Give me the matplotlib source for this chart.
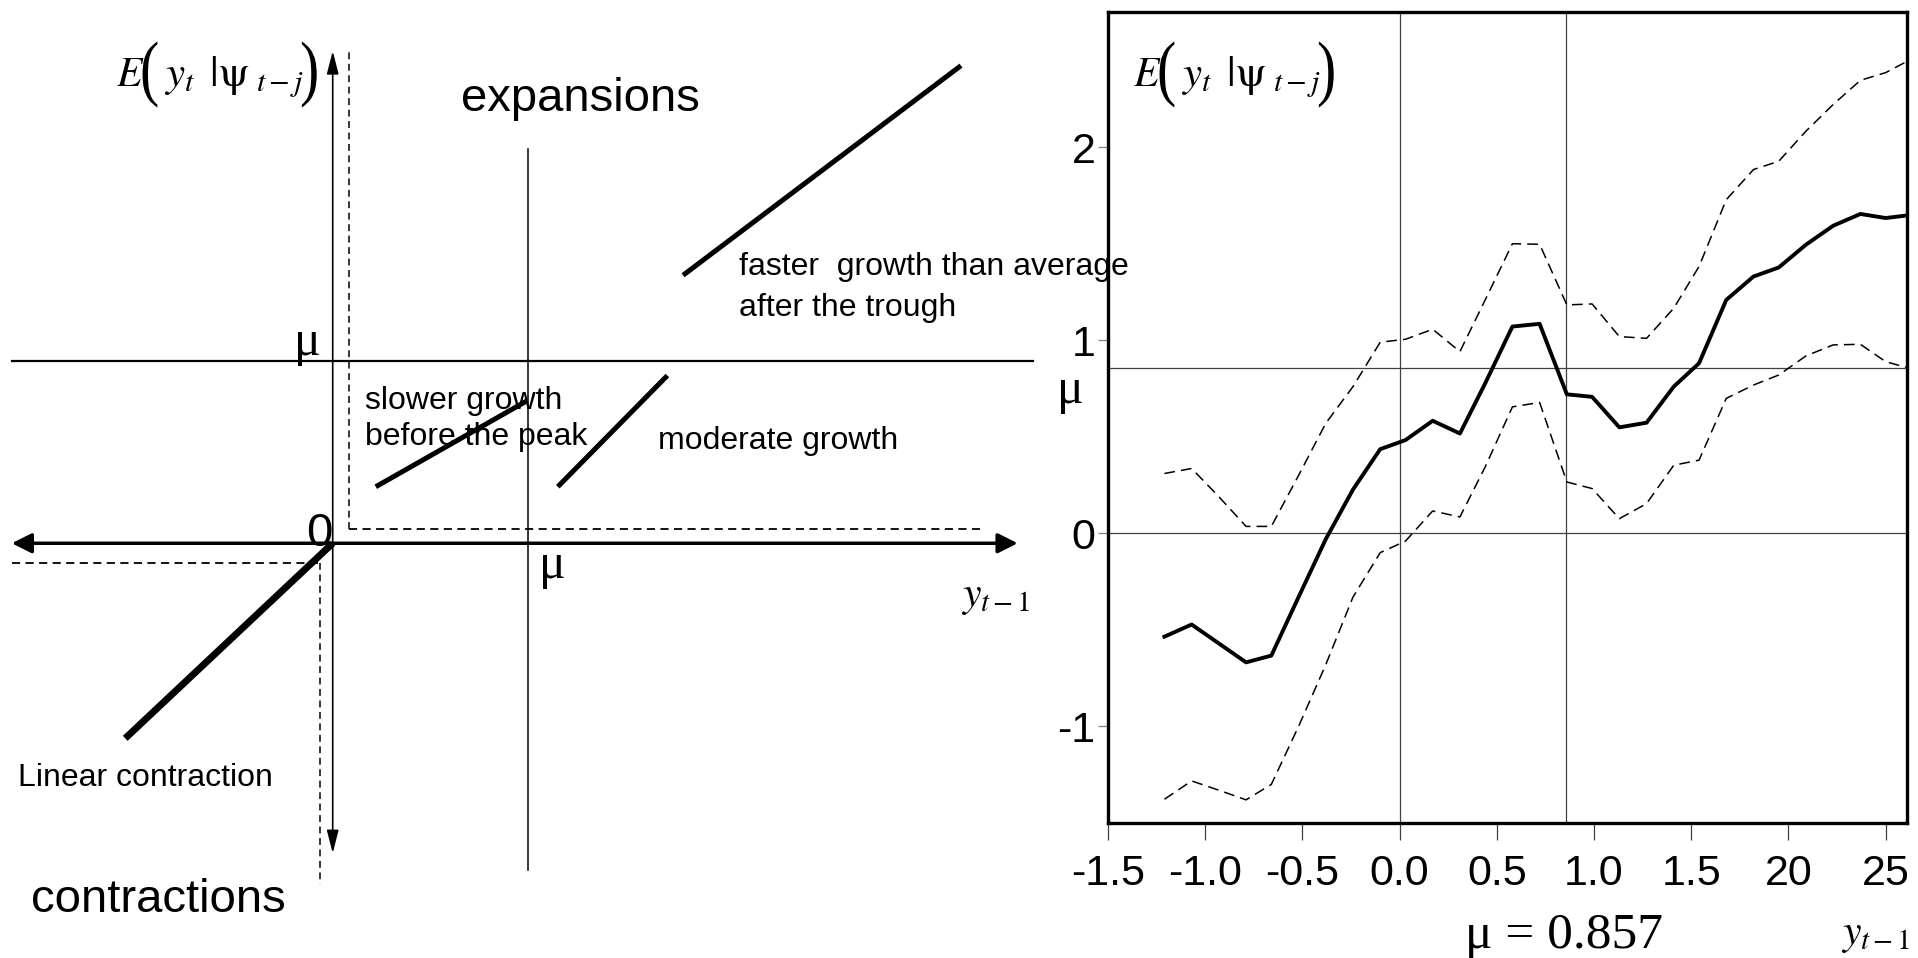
import matplotlib
matplotlib.use("Agg")
import matplotlib.pyplot as plt
from matplotlib import font_manager
from matplotlib.font_manager import FontProperties
from matplotlib.textpath import TextPath
from matplotlib.patches import PathPatch
from matplotlib.transforms import Affine2D

# right panel: estimated conditional mean with bands
y_lag = [-1.21, -1.07, -0.93, -0.79, -0.66, -0.52, -0.38, -0.24, -0.10, 0.03,
         0.17, 0.31, 0.44, 0.58, 0.72, 0.86, 0.99, 1.13, 1.27, 1.41,
         1.54, 1.68, 1.82, 1.95, 2.09, 2.23, 2.37, 2.50, 2.64]
cond_mean = [-0.535, -0.472, -0.57, -0.668, -0.633, -0.33, -0.03, 0.227, 0.436, 0.483,
             0.583, 0.517, 0.777, 1.071, 1.085, 0.72, 0.707, 0.549, 0.573, 0.76,
             0.881, 1.209, 1.33, 1.377, 1.495, 1.593, 1.654, 1.633, 1.65]
upper_band = [0.31, 0.336, 0.19, 0.036, 0.036, 0.30, 0.57, 0.76, 0.99, 1.005,
              1.057, 0.941, 1.209, 1.50, 1.497, 1.183, 1.188, 1.019, 1.01, 1.166,
              1.382, 1.728, 1.884, 1.927, 2.083, 2.221, 2.346, 2.386, 2.46]
lower_band = [-1.377, -1.282, -1.33, -1.38, -1.30, -1.00, -0.68, -0.33, -0.10, -0.04,
              0.116, 0.085, 0.344, 0.655, 0.678, 0.266, 0.232, 0.076, 0.154, 0.353,
              0.379, 0.699, 0.768, 0.82, 0.919, 0.976, 0.979, 0.889, 0.85]
mu = 0.857

xtick_vals = [-1.5, -1.0, -0.5, 0.0, 0.5, 1.0, 1.5, 2.0, 2.5]
xtick_labels = ["-1.5", "-1.0", "-0.5", "0.0", "0.5", "1.0", "1.5", "20", "25"]
ytick_vals = [-1, 0, 1, 2]
ytick_labels = ["-1", "0", "1", "2"]

# left panel: schematic, units where mu = 1
faster_x, faster_y = [1.79, 3.21], [1.47, 2.62]
slower_x, slower_y = [0.22, 0.99], [0.31, 0.78]
moderate_x, moderate_y = [1.15, 1.71], [0.31, 0.92]
contraction_x, contraction_y = [-1.06, 0.0], [-1.07, 0.0]

names = {f.name for f in font_manager.fontManager.ttflist}
narrow = "Liberation Sans Narrow" if "Liberation Sans Narrow" in names else "Liberation Sans"
plt.rcParams["font.family"] = "Liberation Sans"
plt.rcParams["mathtext.fontset"] = "stix"
plt.rcParams["axes.unicode_minus"] = False

W, H = 1918, 958
fig = plt.figure(figsize=(W / 100, H / 100), dpi=100)
serif = FontProperties(family="Liberation Serif")


def tall_paren(ch, x_px, base_px):
    # a serif parenthesis stretched vertically, placed in pixel coords
    path = TextPath((0, 0), ch, size=32, prop=serif)
    tr = (Affine2D().scale(1.3 / 72, 1.64 / 72)
          .translate(x_px / 100, (H - base_px) / 100) + fig.dpi_scale_trans)
    fig.add_artist(PathPatch(path, transform=tr, facecolor="black", lw=0))


def cond_label(x0, base):
    # E( y_t | psi_{t-j} ), anchored at the left baseline of E (pixels)
    fig.text(x0 / W, 1 - base / H, r"$E$", fontsize=30, va="baseline")
    tall_paren("(", x0 + 24, base + 6)
    fig.text((x0 + 48) / W, 1 - base / H, r"$y_t\ \,|\mathrm{\psi}_{\ t-j}$",
             fontsize=31, va="baseline")
    tall_paren(")", x0 + 184, base + 6)


# ---------------- left schematic ----------------
axl = fig.add_axes([0, 0, 860 / 1568, 1])
axl.set_xlim(-1.7, 3.675)
axl.set_ylim(-2.275, 2.98)
axl.axis("off")

axl.annotate("", xy=(3.5, 0), xytext=(-1.64, 0),
             arrowprops=dict(arrowstyle="<|-|>,head_length=0.6,head_width=0.3",
                             lw=2.5, color="black", shrinkA=0, shrinkB=0, mutation_scale=20))
axl.annotate("", xy=(0, 2.70), xytext=(0, -1.70),
             arrowprops=dict(arrowstyle="<|-|>,head_length=0.7,head_width=0.18",
                             lw=1.2, color="black", shrinkA=0, shrinkB=0, mutation_scale=20))
axl.plot([-1.64, 3.58], [1, 1], color="black", lw=1.6)
axl.plot([1, 1], [2.16, -1.79], color="black", lw=1.1)

dash = (4.5, 3)
axl.plot([0.081, 0.081], [0.08, 2.70], color="black", lw=1.1, dashes=dash)
axl.plot([0.081, 3.33], [0.08, 0.08], color="black", lw=1.3, dashes=dash)
axl.plot([-1.64, -0.0625], [-0.107, -0.107], color="black", lw=1.3, dashes=dash)
axl.plot([-0.0625, -0.0625], [-0.107, -1.87], color="black", lw=1.1, dashes=dash)

axl.plot(faster_x, faster_y, color="black", lw=3.6, solid_capstyle="butt")
axl.plot(slower_x, slower_y, color="black", lw=3.6, solid_capstyle="butt")
axl.plot(moderate_x, moderate_y, color="black", lw=3.6, solid_capstyle="butt")
axl.plot(contraction_x, contraction_y, color="black", lw=5, solid_capstyle="butt")

axl.text(0.656, 2.369, "expansions", fontsize=34)
axl.text(-1.544, -2.02, "contractions", fontsize=34)
axl.text(2.075, 1.47, "faster  growth than average", fontsize=23, zorder=10)
axl.text(2.075, 1.248, "after the trough", fontsize=23)
axl.text(0.1625, 0.738, "slower growth", fontsize=23)
axl.text(0.1625, 0.537, "before the peak", fontsize=23)
axl.text(1.6625, 0.517, "moderate growth", fontsize=23)
axl.text(-1.606, -1.329, "Linear contraction", fontsize=23)
axl.text(0.0, -0.013, "0", fontsize=34, ha="right")
axl.text(-0.0625, 1.034, "μ", fontsize=36, ha="right", family="Liberation Serif")
axl.text(1.056, -0.188, "μ", fontsize=36, family="Liberation Serif")
axl.text(3.39, -0.295, r"$y_{t-1}$", fontsize=30, ha="center", va="center")
cond_label(116, 86)

# ---------------- right estimate ----------------
ax = fig.add_axes([0.5777, 0.1409, 0.4166, 0.8466])
ax.set_facecolor("none")
for v in (0, mu):
    ax.axvline(v, color="#404040", lw=0.9, zorder=1)
    ax.axhline(v, color="#404040", lw=0.9, zorder=1)
ax.plot(y_lag, upper_band, color="black", lw=1.1, dashes=(7, 4), zorder=2)
ax.plot(y_lag, lower_band, color="black", lw=1.1, dashes=(7, 4), zorder=2)
ax.plot(y_lag, cond_mean, color="black", lw=2.8, zorder=3)

ax.set_xlim(-1.5, 2.61)
ax.set_ylim(-1.5, 2.7)
for s in ax.spines.values():
    s.set_linewidth(2.4)
ax.set_xticks(xtick_vals)
ax.set_xticklabels(xtick_labels, family=narrow)
ax.set_yticks(ytick_vals)
ax.set_yticklabels(ytick_labels, family=narrow)
ax.tick_params(axis="x", direction="out", length=12, width=0.9, color="#404040",
               pad=10, labelsize=31)
ax.tick_params(axis="y", direction="out", length=7, width=0.9, color="#808080",
               pad=2, labelsize=31)

ax.text(-0.0476, 0.533, "μ", fontsize=36, ha="center", va="center",
        family="Liberation Serif", transform=ax.transAxes)
ax.text(0.571, -0.139, "μ = 0.857", fontsize=37, ha="center", va="center",
        family="Liberation Serif", transform=ax.transAxes)
ax.text(0.961, -0.138, r"$y_{t-1}$", fontsize=30, ha="center", va="center",
        transform=ax.transAxes)
cond_label(1133, 86)

fig.savefig("out.png", dpi=100)
